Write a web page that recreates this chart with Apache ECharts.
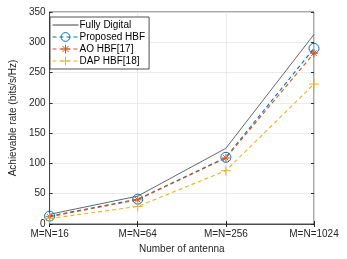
<!DOCTYPE html>
<html><head><meta charset="utf-8">
<script src="https://cdn.jsdelivr.net/npm/echarts@6/dist/echarts.min.js"></script>
<style>html,body{margin:0;padding:0;background:#fff}#c{width:347px;height:259px}</style>
</head><body><div id="c"></div>
<script>
const categories = ['M=N=16', 'M=N=64', 'M=N=256', 'M=N=1024'];
const fullyDigital = [16, 46, 125, 313];
const proposedHBF = [13, 41, 110, 290];
const aoHBF = [12, 40, 109, 282];
const dapHBF = [9, 29, 88, 231];
const seriesNames = ['Fully Digital', 'Proposed HBF', 'AO HBF[17]', 'DAP HBF[18]'];

const FONT = 'Liberation Sans, Arial, sans-serif';
const TXT = '#262626';
const asterisk = 'path://M0,-1L0,1M-1,0L1,0M-0.7,-0.7L0.7,0.7M-0.7,0.7L0.7,-0.7';
const plus = 'path://M0,-1L0,1M-1,0L1,0';

const chart = echarts.init(document.getElementById('c'), null, {renderer: 'canvas'});
chart.setOption({
  animation: false,
  backgroundColor: '#fff',
  grid: {left: 42, right: 33, top: 12, bottom: 35, show: true, borderColor: '#262626', borderWidth: 0.8, backgroundColor: '#fff'},
  legend: {
    orient: 'vertical', left: 50, top: 17,
    data: [
      {name: seriesNames[0], itemStyle: {opacity: 0}},
      {name: seriesNames[1]},
      {name: seriesNames[2]},
      {name: seriesNames[3]}
    ],
    lineStyle: {width: 1},
    itemStyle: {borderWidth: 1},
    backgroundColor: '#fff', borderColor: '#262626', borderWidth: 0.8,
    padding: [3, 4, 3, 2], itemGap: 2, itemWidth: 26, itemHeight: 11,
    textStyle: {fontFamily: FONT, fontSize: 10, color: '#000', padding: [0, 0, 0, -4]}
  },
  xAxis: [{
    type: 'category', data: categories, boundaryGap: false,
    name: 'Number of antenna', nameLocation: 'middle', nameGap: 20,
    nameTextStyle: {fontFamily: FONT, fontSize: 10, color: TXT},
    axisLine: {lineStyle: {color: '#262626', width: 0.8}},
    axisTick: {inside: true, length: 3, lineStyle: {color: '#262626'}},
    axisLabel: {fontFamily: FONT, fontSize: 10, color: TXT, margin: 5, showMinLabel: true, showMaxLabel: true},
    splitLine: {show: true, lineStyle: {color: '#e6e6e6', width: 0.8}}
  }, {
    type: 'category', data: categories, boundaryGap: false, position: 'top',
    axisLine: {show: false}, axisLabel: {show: false},
    axisTick: {inside: true, length: 3, lineStyle: {color: '#262626'}}
  }],
  yAxis: [{
    type: 'value', min: 0, max: 350, interval: 50,
    name: 'Achievable rate (bits/s/Hz)', nameLocation: 'middle', nameGap: 25,
    nameTextStyle: {fontFamily: FONT, fontSize: 10, color: TXT},
    axisLine: {show: true, lineStyle: {color: '#262626', width: 0.8}},
    axisTick: {show: true, inside: true, length: 3, lineStyle: {color: '#262626'}},
    axisLabel: {fontFamily: FONT, fontSize: 10, color: TXT, margin: 4},
    splitLine: {show: true, lineStyle: {color: '#e6e6e6', width: 0.8}}
  }, {
    type: 'value', min: 0, max: 350, interval: 50, position: 'right',
    axisLine: {show: false}, axisLabel: {show: false}, splitLine: {show: false},
    axisTick: {show: true, inside: true, length: 3, lineStyle: {color: '#262626'}}
  }],
  series: [
    {name: seriesNames[0], type: 'line', data: fullyDigital, showSymbol: false, symbol: 'circle',
     lineStyle: {color: '#404040', width: 0.8}, itemStyle: {color: '#404040'}, z: 2},
    {name: seriesNames[1], type: 'line', data: proposedHBF, symbol: 'circle', symbolSize: 10,
     lineStyle: {color: '#0072BD', width: 1.1, type: [4, 3]},
     itemStyle: {color: 'rgba(0,0,0,0)', borderColor: '#0072BD', borderWidth: 1}, z: 3},
    {name: seriesNames[2], type: 'line', data: aoHBF, symbol: asterisk, symbolSize: 8,
     lineStyle: {color: '#D95319', width: 1.1, type: [4, 3]},
     itemStyle: {color: '#D95319', borderColor: '#D95319', borderWidth: 1}, z: 4},
    {name: seriesNames[3], type: 'line', data: dapHBF, symbol: plus, symbolSize: 10,
     lineStyle: {color: '#EDB120', width: 1.1, type: [4, 3]},
     itemStyle: {color: '#EDB120', borderColor: '#EDB120', borderWidth: 1}, z: 5}
  ]
});
</script></body></html>
